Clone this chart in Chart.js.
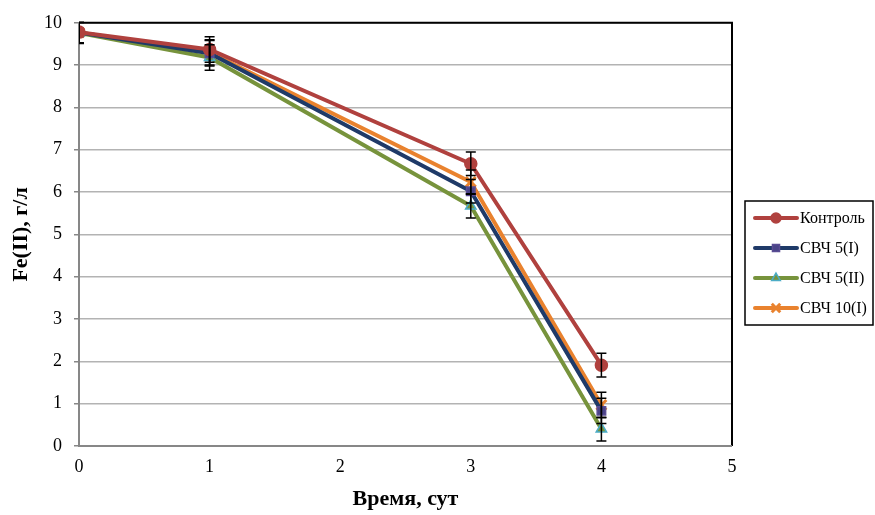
<!DOCTYPE html>
<html><head><meta charset="utf-8">
<script src="https://cdn.jsdelivr.net/npm/chart.js@4/dist/chart.umd.min.js"></script>
<style>html,body{margin:0;padding:0;background:#fff;}#wrap{width:875px;height:515px;}</style>
</head><body><div id="wrap"><canvas id="c" width="875" height="515"></canvas></div>
<script>
const days = [0, 1, 3, 4];
const seriesNames = ["Контроль", "СВЧ 5(I)", "СВЧ 5(II)", "СВЧ 10(I)"];
const kontrol = [9.78, 9.37, 6.67, 1.91];
const svch5I = [9.77, 9.28, 6.02, 0.83];
const svch5II = [9.76, 9.18, 5.67, 0.40];
const svch10I = [9.77, 9.30, 6.24, 0.97];
const errKontrol = [0.25, 0.30, 0.28, 0.28];
const err5I = [0.25, 0.30, 0.28, 0.30];
const err5II = [0.25, 0.30, 0.28, 0.28];
const err10I = [0.25, 0.30, 0.28, 0.30];
const yTicks = [0,1,2,3,4,5,6,7,8,9,10];
const xTicks = [0,1,2,3,4,5];

const lineColors = ["#B0413E", "#1F3A68", "#77933C", "#E9822E"];
const pointFill = ["#B0413E", "#4A4488", "#77933C", "#E9822E"];
const pointBorder = ["#B0413E", "#5A4C94", "#4BACC6", "#E9822E"];
const pointStyles = ["circle", "rect", "triangle", "crossRot"];
const pointRadii = [6, 6, 6, 7];
const allVals = [kontrol, svch5I, svch5II, svch10I];
const allErr = [errKontrol, err5I, err5II, err10I];

const datasets = seriesNames.map((n, i) => ({
  label: n,
  data: days.map((d, j) => ({x: d, y: allVals[i][j]})),
  errors: allErr[i],
  borderColor: lineColors[i],
  backgroundColor: pointFill[i],
  borderWidth: 4,
  pointStyle: pointStyles[i],
  pointRadius: pointRadii[i],
  pointBackgroundColor: pointFill[i],
  pointBorderColor: pointBorder[i],
  pointBorderWidth: i === 3 ? 3 : 1.5,
  tension: 0,
  fill: false
}));

const serif = "'Liberation Serif', 'Times New Roman', serif";

const errorBars = {
  id: 'errorBars',
  afterDatasetsDraw(chart) {
    const ctx = chart.ctx, xs = chart.scales.x, ys = chart.scales.y, a = chart.chartArea;
    ctx.save();
    ctx.beginPath(); ctx.rect(a.left, a.top - 1, a.right - a.left, a.bottom - a.top + 2); ctx.clip();
    ctx.strokeStyle = '#000'; ctx.lineWidth = 1.5;
    chart.data.datasets.forEach(ds => {
      ds.data.forEach((p, j) => {
        const e = ds.errors[j];
        const px = xs.getPixelForValue(p.x);
        const y1 = ys.getPixelForValue(p.y + e), y2 = ys.getPixelForValue(p.y - e);
        ctx.beginPath();
        ctx.moveTo(px, y1); ctx.lineTo(px, y2);
        ctx.moveTo(px - 5, y1); ctx.lineTo(px + 5, y1);
        ctx.moveTo(px - 5, y2); ctx.lineTo(px + 5, y2);
        ctx.stroke();
      });
    });
    ctx.restore();
  }
};

const frame = {
  id: 'frame',
  beforeDatasetsDraw(chart) {
    const ctx = chart.ctx, a = chart.chartArea;
    ctx.save();
    ctx.strokeStyle = '#000'; ctx.lineWidth = 2;
    ctx.beginPath();
    ctx.moveTo(a.left, a.top); ctx.lineTo(a.right, a.top); ctx.lineTo(a.right, a.bottom);
    ctx.stroke();
    ctx.strokeStyle = '#878787'; ctx.lineWidth = 2;
    ctx.beginPath();
    ctx.moveTo(a.left, a.top); ctx.lineTo(a.left, a.bottom); ctx.lineTo(a.right, a.bottom);
    ctx.stroke();
    ctx.restore();
  }
};

const legendBox = {
  id: 'legendBox',
  afterDraw(chart) {
    const ctx = chart.ctx;
    const left = 745, top = 201, w = 128, h = 124;
    ctx.save();
    ctx.strokeStyle = '#000'; ctx.lineWidth = 1.5;
    ctx.strokeRect(left, top, w, h);
    ctx.font = "16px " + serif;
    ctx.textBaseline = 'middle';
    chart.data.datasets.forEach((ds, i) => {
      const y = top + 17 + i * 30;
      ctx.strokeStyle = ds.borderColor; ctx.lineWidth = 4; ctx.lineCap = 'round';
      ctx.beginPath(); ctx.moveTo(left + 10, y); ctx.lineTo(left + 52, y); ctx.stroke();
      ctx.lineCap = 'butt';
      ctx.fillStyle = ds.pointBackgroundColor; ctx.strokeStyle = ds.pointBorderColor;
      ctx.lineWidth = ds.pointBorderWidth;
      Chart.helpers.drawPoint(ctx, {
        pointStyle: ds.pointStyle, radius: ds.pointRadius - 1, borderWidth: ds.pointBorderWidth
      }, left + 31, y);
      ctx.fillStyle = '#000';
      ctx.fillText(ds.label, left + 55, y + 1);
    });
    ctx.restore();
  }
};

new Chart(document.getElementById('c'), {
  type: 'line',
  data: { datasets },
  plugins: [frame, errorBars, legendBox],
  options: {
    responsive: false,
    animation: false,
    layout: { padding: { left: 6, right: 143, top: 21, bottom: 2 } },
    plugins: { legend: { display: false }, tooltip: { enabled: false } },
    scales: {
      x: {
        type: 'linear', min: 0, max: 5,
        afterBuildTicks: s => { s.ticks = xTicks.map(v => ({value: v})); },
        grid: { display: false, drawTicks: true, tickLength: 5, tickColor: '#878787' },
        border: { display: false },
        ticks: { color: '#000', font: { family: serif, size: 18 }, padding: 5 },
        title: { display: true, text: 'Время, сут', color: '#000', font: { family: serif, size: 22, weight: 'bold' }, padding: { top: 4, bottom: 0 } }
      },
      y: {
        min: 0, max: 10,
        afterBuildTicks: s => { s.ticks = yTicks.map(v => ({value: v})); },
        grid: { color: '#B3B3B3', lineWidth: 1.5, tickLength: 5, tickColor: '#878787' },
        border: { display: false },
        ticks: { color: '#000', font: { family: serif, size: 18 }, padding: 12 },
        title: { display: true, text: 'Fe(II), г/л', color: '#000', font: { family: serif, size: 22, weight: 'bold', lineHeight: 1 }, padding: { top: 4, bottom: 0 } }
      }
    }
  }
});
</script></body></html>
